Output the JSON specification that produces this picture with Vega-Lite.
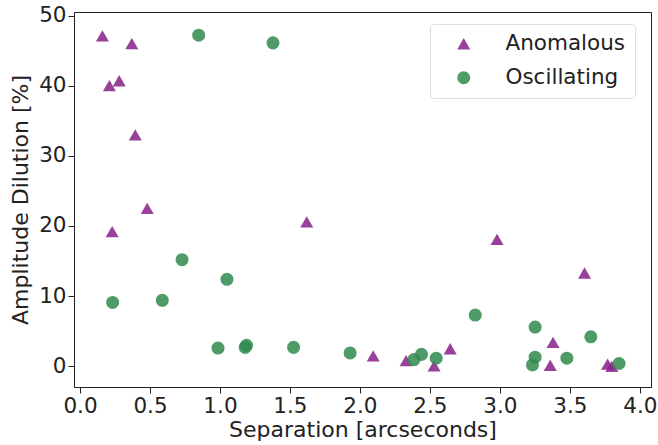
{
  "$schema": "https://vega.github.io/schema/vega-lite/v6.json",
  "width": 577,
  "height": 375,
  "autosize": "none",
  "padding": {"left": 74, "top": 12, "right": 7, "bottom": 58},
  "background": "white",
  "config": {
    "font": "DejaVu Sans",
    "view": {"stroke": "#222222", "strokeWidth": 1},
    "axis": {
      "grid": false,
      "labelFontSize": 21.5,
      "titleFontSize": 22,
      "titleFontWeight": "normal",
      "labelColor": "#222222",
      "titleColor": "#222222",
      "domainColor": "#222222",
      "tickColor": "#222222",
      "tickSize": 6,
      "labelPadding": 2
    }
  },
  "data": {
    "values": [
      {"sep": 0.16, "dil": 47.1, "type": "Anomalous"},
      {"sep": 0.21, "dil": 40.0, "type": "Anomalous"},
      {"sep": 0.28, "dil": 40.7, "type": "Anomalous"},
      {"sep": 0.37, "dil": 46.0, "type": "Anomalous"},
      {"sep": 0.395, "dil": 33.0, "type": "Anomalous"},
      {"sep": 0.48, "dil": 22.5, "type": "Anomalous"},
      {"sep": 0.23, "dil": 19.2, "type": "Anomalous"},
      {"sep": 1.62, "dil": 20.6, "type": "Anomalous"},
      {"sep": 2.095, "dil": 1.5, "type": "Anomalous"},
      {"sep": 2.33, "dil": 0.8, "type": "Anomalous"},
      {"sep": 2.53, "dil": 0.05, "type": "Anomalous"},
      {"sep": 2.645, "dil": 2.5, "type": "Anomalous"},
      {"sep": 2.98, "dil": 18.1, "type": "Anomalous"},
      {"sep": 3.36, "dil": 0.15, "type": "Anomalous"},
      {"sep": 3.38, "dil": 3.4, "type": "Anomalous"},
      {"sep": 3.605, "dil": 13.3, "type": "Anomalous"},
      {"sep": 3.77, "dil": 0.3, "type": "Anomalous"},
      {"sep": 3.8, "dil": 0.0, "type": "Anomalous"},
      {"sep": 0.848, "dil": 47.2, "type": "Oscillating"},
      {"sep": 1.379, "dil": 46.1, "type": "Oscillating"},
      {"sep": 0.233, "dil": 9.1, "type": "Oscillating"},
      {"sep": 0.588, "dil": 9.4, "type": "Oscillating"},
      {"sep": 0.729, "dil": 15.2, "type": "Oscillating"},
      {"sep": 1.05, "dil": 12.4, "type": "Oscillating"},
      {"sep": 0.986, "dil": 2.6, "type": "Oscillating"},
      {"sep": 1.18, "dil": 2.7, "type": "Oscillating"},
      {"sep": 1.19, "dil": 3.0, "type": "Oscillating"},
      {"sep": 1.526, "dil": 2.7, "type": "Oscillating"},
      {"sep": 1.93, "dil": 1.9, "type": "Oscillating"},
      {"sep": 2.386, "dil": 0.95, "type": "Oscillating"},
      {"sep": 2.44, "dil": 1.7, "type": "Oscillating"},
      {"sep": 2.545, "dil": 1.15, "type": "Oscillating"},
      {"sep": 2.824, "dil": 7.3, "type": "Oscillating"},
      {"sep": 3.252, "dil": 5.6, "type": "Oscillating"},
      {"sep": 3.252, "dil": 1.3, "type": "Oscillating"},
      {"sep": 3.233, "dil": 0.2, "type": "Oscillating"},
      {"sep": 3.479, "dil": 1.15, "type": "Oscillating"},
      {"sep": 3.65, "dil": 4.2, "type": "Oscillating"},
      {"sep": 3.852, "dil": 0.4, "type": "Oscillating"}
    ]
  },
  "mark": {"type": "point", "filled": true, "opacity": 0.85, "strokeWidth": 0},
  "encoding": {
    "x": {
      "field": "sep",
      "type": "quantitative",
      "title": "Separation [arcseconds]",
      "scale": {"domain": [-0.043, 4.08], "nice": false, "zero": false},
      "axis": {"values": [0, 0.5, 1, 1.5, 2, 2.5, 3, 3.5, 4], "format": ".1f", "titlePadding": 3}
    },
    "y": {
      "field": "dil",
      "type": "quantitative",
      "title": "Amplitude Dilution [%]",
      "scale": {"domain": [-2.95, 50.5], "nice": false, "zero": false},
      "axis": {"values": [0, 10, 20, 30, 40, 50], "titlePadding": 6}
    },
    "color": {
      "field": "type",
      "type": "nominal",
      "scale": {"domain": ["Anomalous", "Oscillating"], "range": ["#862089", "#2f8a4e"]},
      "legend": {
        "title": null,
        "orient": "none",
        "legendX": 356,
        "legendY": 12,
        "labelFontSize": 21.5,
        "labelColor": "#222222",
        "symbolSize": 170,
        "symbolOpacity": 0.85,
        "symbolStrokeWidth": 0,
        "padding": 9,
        "rowPadding": 11,
        "labelOffset": 31,
        "symbolOffset": 14,
        "strokeColor": "#dddddd",
        "cornerRadius": 4,
        "fillColor": "white"
      }
    },
    "shape": {
      "field": "type",
      "type": "nominal",
      "scale": {"domain": ["Anomalous", "Oscillating"], "range": ["triangle-up", "circle"]},
      "legend": null
    },
    "size": {"value": 170}
  }
}
